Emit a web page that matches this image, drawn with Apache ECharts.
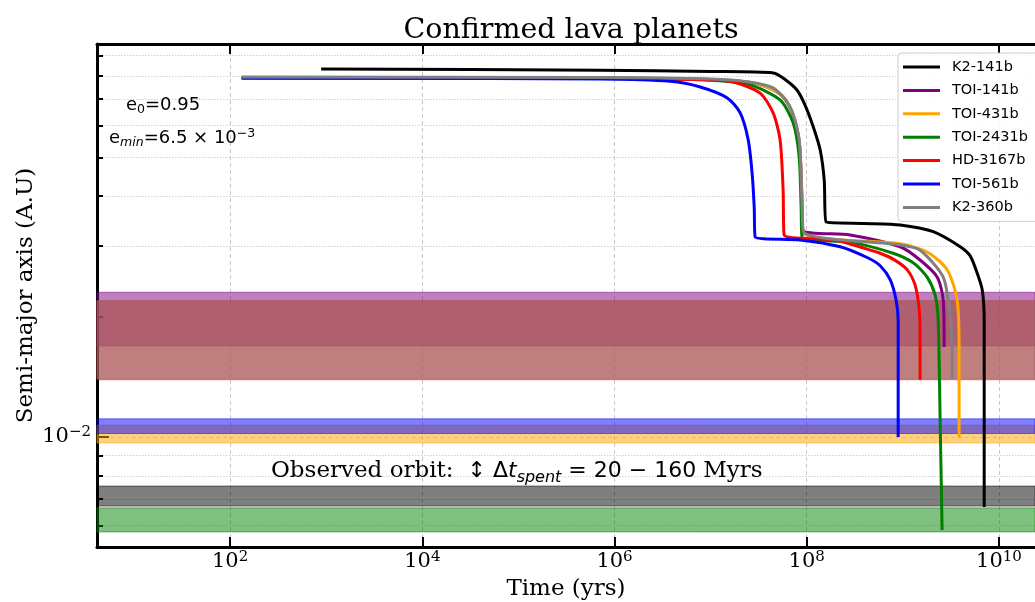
<!DOCTYPE html>
<html>
<head>
<meta charset="utf-8">
<script src="https://cdn.jsdelivr.net/npm/echarts@6/dist/echarts.min.js"></script>
<style>
  html, body { margin: 0; padding: 0; background: #fff; }
  #main { width: 1035px; height: 602px; }
</style>
</head>
<body>
<div id="main"></div>
<script>
// planets, same order as legend
const planets = ['K2-141b', 'TOI-141b', 'TOI-431b', 'TOI-2431b', 'HD-3167b', 'TOI-561b', 'K2-360b'];
const planetColors = ['#000000', '#800080', '#ffa500', '#008000', '#ff0000', '#0000ff', '#808080'];

// tracks: time (yrs) -> semi-major axis (A.U)
const k2141Time = [885, 7.1e5, 1.0e7, 4.5e7, 6.0e7, 7.9e7, 9.6e7, 1.17e8, 1.38e8, 1.52e8, 1.59e8, 4.0e8, 9.4e8, 2.07e9, 3.95e9, 5.0e9, 5.93e9, 6.7e9, 7.02e9, 7.02e9];
const k2141Axis = [0.0832, 0.0826, 0.0820, 0.0813, 0.0782, 0.0737, 0.0676, 0.0596, 0.0522, 0.0439, 0.0345, 0.0342, 0.0339, 0.0326, 0.0299, 0.0284, 0.0257, 0.0233, 0.0196, 0.00668];

const toi141Time = [132, 7.1e5, 1.0e7, 3.0e7, 5.5e7, 7.2e7, 8.4e7, 8.9e7, 9.1e7, 2.83e8, 9.38e8, 1.51e9, 2.28e9, 2.63e9, 2.69e9];
const toi141Axis = [0.0792, 0.0790, 0.0783, 0.0765, 0.0715, 0.0640, 0.0540, 0.0400, 0.0329, 0.0320, 0.0299, 0.0277, 0.0251, 0.0220, 0.0168];

const toi431Time = [132, 7.1e5, 1.0e7, 3.0e7, 5.5e7, 7.2e7, 8.4e7, 8.9e7, 9.18e7, 9.38e8, 1.79e9, 2.89e9, 3.67e9, 3.85e9, 3.85e9];
const toi431Axis = [0.0792, 0.0790, 0.0783, 0.0765, 0.0715, 0.0640, 0.0540, 0.0400, 0.0324, 0.0304, 0.0290, 0.0262, 0.0220, 0.0165, 0.0100];

const toi2431Time = [132, 7.1e5, 1.0e7, 2.58e7, 5.28e7, 7.22e7, 8.34e7, 8.74e7, 8.95e7, 2.83e8, 7.92e8, 1.3e9, 1.79e9, 2.17e9, 2.33e9, 2.44e9, 2.56e9];
const toi2431Axis = [0.0790, 0.0787, 0.0780, 0.0759, 0.0696, 0.0610, 0.0501, 0.0376, 0.0316, 0.0307, 0.0288, 0.0272, 0.0251, 0.0226, 0.0196, 0.0112, 0.00585];

const hd3167Time = [132, 7.1e5, 7.8e6, 1.71e7, 3.27e7, 4.47e7, 5.28e7, 5.68e7, 5.82e7, 1.88e8, 4.25e8, 5.81e8, 8.0e8, 1.11e9, 1.34e9, 1.48e9, 1.51e9, 1.51e9];
const hd3167Axis = [0.0790, 0.0787, 0.0782, 0.0772, 0.0724, 0.0646, 0.0553, 0.0414, 0.0320, 0.0311, 0.0295, 0.0288, 0.0278, 0.0262, 0.0240, 0.0208, 0.0180, 0.0139];

const toi561Time = [132, 7.1e5, 3.8e6, 7.8e6, 1.49e7, 2.03e7, 2.46e7, 2.70e7, 2.84e7, 2.91e7, 8.5e7, 2.23e8, 4.25e8, 5.81e8, 7.4e8, 8.5e8, 8.94e8, 8.94e8];
const toi561Axis = [0.0790, 0.0785, 0.0775, 0.0750, 0.0704, 0.0646, 0.0553, 0.0457, 0.0376, 0.0316, 0.0311, 0.0299, 0.0281, 0.0268, 0.0247, 0.0220, 0.0196, 0.0100];

const k2360Time = [132, 7.1e5, 1.0e7, 2.5e7, 4.47e7, 6.72e7, 8.34e7, 8.95e7, 9.4e7, 9.38e8, 1.51e9, 2.63e9, 3.11e9, 3.26e9, 3.26e9];
const k2360Axis = [0.0794, 0.0792, 0.0785, 0.0772, 0.0746, 0.0668, 0.0553, 0.0376, 0.0324, 0.0302, 0.0293, 0.0251, 0.0200, 0.0165, 0.0140];

// observed orbit bands (A.U)
const bandLow = [0.00672, 0.0169, 0.00966, 0.00579, 0.0139, 0.0102, 0.0140];
const bandHigh = [0.00754, 0.0230, 0.0107, 0.00665, 0.0219, 0.0111, 0.0219];

// ticks
const xTickExp = [2, 4, 6, 8, 10];
const yMajorTicks = [0.01];
const yMinorTicks = [0.006, 0.007, 0.008, 0.009, 0.02, 0.03, 0.04, 0.05, 0.06, 0.07, 0.08, 0.09];

const tracks = [
  [k2141Time, k2141Axis], [toi141Time, toi141Axis], [toi431Time, toi431Axis],
  [toi2431Time, toi2431Axis], [hd3167Time, hd3167Axis], [toi561Time, toi561Axis],
  [k2360Time, k2360Axis]
];

const lg = Math.log10;
const xMin = 0.615, xMax = 10.375;
const yMin = -2.275, yMax = -1.0175;

function hexA(hex, a) {
  const n = parseInt(hex.slice(1), 16);
  return 'rgba(' + (n >> 16 & 255) + ',' + (n >> 8 & 255) + ',' + (n & 255) + ',' + a + ')';
}

const serif = 'DejaVu Serif';
const sans = 'DejaVu Sans';
const powRich = {
  b: { fontFamily: serif, fontSize: 21, color: '#000', lineHeight: 24 },
  p: { fontFamily: serif, fontSize: 15, color: '#000', verticalAlign: 'top', lineHeight: 24 }
};

const series = [];
// bands first, drawn under the tracks
planets.forEach((name, i) => {
  series.push({
    name: 'band ' + name,
    type: 'line',
    data: [],
    silent: true,
    markArea: {
      silent: true,
      z: 1,
      itemStyle: { color: hexA(planetColors[i], 0.5), borderColor: hexA(planetColors[i], 0.5), borderWidth: 1 },
      data: [[{ yAxis: lg(bandLow[i]) }, { yAxis: lg(bandHigh[i]) }]]
    }
  });
});
planets.forEach((name, i) => {
  const [ts, as] = tracks[i];
  series.push({
    name: name,
    type: 'line',
    z: 3,
    showSymbol: false,
    symbol: 'none',
    smooth: 0.25,
    color: planetColors[i],
    lineStyle: { width: 3, color: planetColors[i] },
    data: ts.map((t, k) => [lg(t), lg(as[k])])
  });
});

const myChart = echarts.init(document.getElementById('main'));
const option = {
  animation: false,
  backgroundColor: '#fff',
  title: {
    text: 'Confirmed lava planets',
    left: 566,
    textAlign: 'center',
    top: 11,
    textStyle: { fontFamily: serif, fontSize: 28.5, fontWeight: 'normal', color: '#000' }
  },
  legend: {
    data: planets,
    orient: 'vertical',
    left: 898,
    top: 53,
    icon: 'rect',
    itemWidth: 37,
    itemHeight: 3,
    itemGap: 7.4,
    padding: [6, 24, 6, 5],
    backgroundColor: 'rgba(255,255,255,0.85)',
    borderColor: '#cccccc',
    borderWidth: 1,
    borderRadius: 4,
    textStyle: { fontFamily: sans, fontSize: 14.5, color: '#000', lineHeight: 16, padding: [0, 0, 0, 7] }
  },
  grid: { left: 97, top: 44, bottom: 55, right: 0, outerBoundsMode: 'none', containLabel: false },
  xAxis: [{
    type: 'value', min: xMin, max: xMax, position: 'bottom',
    name: 'Time (yrs)', nameLocation: 'middle', nameGap: 31,
    nameMoveOverlap: false,
    nameTextStyle: { fontFamily: serif, fontSize: 23, color: '#000' },
    axisLine: { show: true, onZero: false, lineStyle: { color: '#000', width: 3 } },
    axisTick: { show: true, inside: true, length: 10, customValues: xTickExp, lineStyle: { color: '#000', width: 2 } },
    axisLabel: { customValues: xTickExp, margin: 3, formatter: v => '{b|10}{p|' + v + '}', rich: powRich },
    splitLine: { show: true, lineStyle: { color: '#c8c8c8', type: [4, 3], width: 1 } }
  }, {
    type: 'value', min: xMin, max: xMax, position: 'top',
    axisLine: { show: true, onZero: false, lineStyle: { color: '#000', width: 3 } },
    axisTick: { show: true, inside: true, length: 10, customValues: xTickExp, lineStyle: { color: '#000', width: 2 } },
    axisLabel: { show: false },
    splitLine: { show: false }
  }],
  yAxis: [{
    type: 'value', min: yMin, max: yMax, position: 'left',
    name: 'Semi-major axis (A.U)', nameLocation: 'middle', nameGap: 59,
    nameMoveOverlap: false,
    nameTextStyle: { fontFamily: serif, fontSize: 23, color: '#000' },
    axisLine: { show: true, onZero: false, lineStyle: { color: '#000', width: 3 } },
    axisTick: { show: true, inside: true, length: 12, customValues: yMajorTicks.map(lg), lineStyle: { color: '#000', width: 2 } },
    axisLabel: { customValues: yMajorTicks.map(lg), margin: 6, formatter: v => '{b|10}{p|' + String(Math.round(v)).replace('-', '\u2212') + '}', rich: powRich },
    splitLine: { show: true, lineStyle: { color: '#c8c8c8', type: [4, 3], width: 1 } }
  }, {
    type: 'value', min: yMin, max: yMax, position: 'left', offset: 0,
    axisLine: { show: false },
    axisTick: { show: true, inside: true, length: 6, customValues: yMinorTicks.map(lg), lineStyle: { color: '#000', width: 2 } },
    axisLabel: { show: false },
    splitLine: { show: true, lineStyle: { color: '#d0d0d0', type: [1.5, 1.5], width: 1 } }
  }],
  graphic: [{
    type: 'text', x: 271, y: 471, z: 10,
    style: {
      text: '{s|Observed orbit:}{d|  \u2195 \u0394}{i|t}{sub|spent}{d| = 20 \u2212 160 }{s|Myrs}',
      verticalAlign: 'middle',
      rich: {
        s: { fontFamily: serif, fontSize: 23, fill: '#000', lineHeight: 30 },
        d: { fontFamily: sans, fontSize: 22, fill: '#000', lineHeight: 30 },
        i: { fontFamily: sans, fontSize: 22, fontStyle: 'italic', fill: '#000', lineHeight: 30 },
        sub: { fontFamily: sans, fontSize: 16, fontStyle: 'italic', fill: '#000', verticalAlign: 'bottom', lineHeight: 30 }
      }
    }
  }, {
    type: 'text', x: 126, y: 105, z: 10,
    style: {
      text: '{n|e}{sub|0}{n|=0.95}',
      verticalAlign: 'middle',
      rich: {
        n: { fontFamily: sans, fontSize: 18, fill: '#000', lineHeight: 22 },
        sub: { fontFamily: sans, fontSize: 12.5, fill: '#000', verticalAlign: 'bottom', lineHeight: 22 }
      }
    }
  }, {
    type: 'text', x: 109, y: 138, z: 10,
    style: {
      text: '{n|e}{sub|min}{n|=6.5 \u00d7 10}{sup|\u22123}',
      verticalAlign: 'middle',
      rich: {
        n: { fontFamily: sans, fontSize: 18, fill: '#000', lineHeight: 22 },
        sub: { fontFamily: sans, fontSize: 12.5, fontStyle: 'italic', fill: '#000', verticalAlign: 'bottom', lineHeight: 22 },
        sup: { fontFamily: sans, fontSize: 12.5, fill: '#000', verticalAlign: 'top', lineHeight: 22 }
      }
    }
  }],
  series: series
};
myChart.setOption(option);
</script>
</body>
</html>
